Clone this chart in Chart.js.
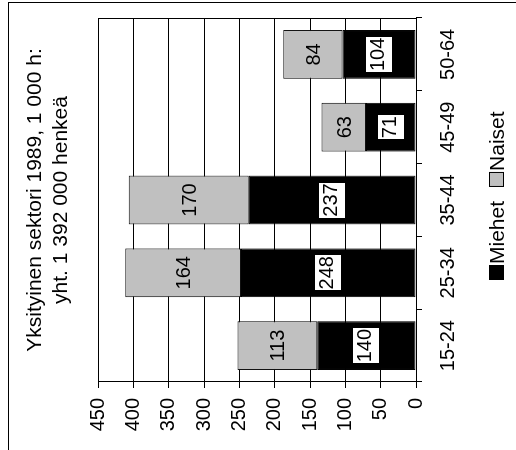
<!DOCTYPE html>
<html>
<head>
<meta charset="utf-8">
<script src="https://cdn.jsdelivr.net/npm/chart.js@4"></script>
<style>
  html, body { margin: 0; padding: 0; background: #fff; overflow: hidden; }
  #frame { position: absolute; left: 8px; top: 2px; width: 600px; height: 600px; border: 1px solid #000; }
  /* the chart is drawn upright, then turned a quarter to the left */
  #rot { position: absolute; left: 0; top: 0; width: 450px; height: 516px;
         transform-origin: 0 0; transform: translateY(450px) rotate(-90deg); }
</style>
</head>
<body>
<div id="frame"></div>
<div id="rot"><canvas id="chart" width="450" height="516"></canvas></div>
<script>
const FONT = "'Liberation Sans', Arial, sans-serif";

// Dati
const ageGroups = ["15-24", "25-34", "35-44", "45-49", "50-64"];
const miehet = [140, 248, 237, 71, 104];
const naiset = [113, 164, 170, 63, 84];
const valueMax = 450;
const valueStep = 50;
const titleLines = ["Yksityinen sektori 1989, 1 000 h:", "yht. 1 392 000 henkeä"];

// bordo destro dell'area del grafico
const plotBorder = {
  id: "plotBorder",
  afterDraw(chart) {
    const { ctx, chartArea } = chart;
    const x = Math.round(chartArea.right) - 0.5;
    ctx.save();
    ctx.strokeStyle = "#000";
    ctx.lineWidth = 1;
    ctx.beginPath();
    ctx.moveTo(x, chartArea.top);
    ctx.lineTo(x, chartArea.bottom);
    ctx.stroke();
    ctx.restore();
  },
};

// etichette dei valori
const barLabels = {
  id: "barLabels",
  afterDatasetsDraw(chart) {
    const ctx = chart.ctx;
    ctx.save();
    ctx.font = "20px " + FONT;
    ctx.textAlign = "center";
    ctx.textBaseline = "alphabetic";
    chart.data.datasets.forEach((ds, i) => {
      chart.getDatasetMeta(i).data.forEach((bar, j) => {
        const { x, y } = bar.getCenterPoint();
        const text = String(ds.data[j]);
        const w = ctx.measureText(text).width;
        if (ds.labelBox) {
          ctx.fillStyle = "#fff";
          ctx.fillRect(Math.round(x - w / 2 - 1), Math.round(y - 13), Math.round(w + 2), 26);
        }
        ctx.fillStyle = "#000";
        ctx.fillText(text, x, y + (ds.labelBox ? 5 : 7));
      });
    });
    ctx.restore();
  },
};

// legenda sotto l'asse
const sideLegend = {
  id: "sideLegend",
  afterDraw(chart) {
    const ctx = chart.ctx;
    let x = 170;
    const y = 489;
    ctx.save();
    ctx.font = "21px " + FONT;
    ctx.textBaseline = "alphabetic";
    chart.data.datasets.forEach((ds) => {
      ctx.fillStyle = ds.backgroundColor;
      ctx.fillRect(x, y, 15, 15);
      ctx.strokeStyle = "#000";
      ctx.lineWidth = 1;
      ctx.strokeRect(x + 0.5, y + 0.5, 14, 14);
      ctx.fillStyle = "#000";
      ctx.fillText(ds.label, x + 16, y + 15);
      x += 16 + ctx.measureText(ds.label).width + 14;
    });
    ctx.restore();
  },
};

new Chart(document.getElementById("chart"), {
  type: "bar",
  data: {
    labels: ageGroups,
    datasets: [
      {
        label: "Miehet",
        data: miehet,
        backgroundColor: "#000000",
        borderColor: "#000000",
        borderWidth: 1,
        borderSkipped: false,
        barPercentage: 0.67,
        categoryPercentage: 1,
        labelBox: true,
      },
      {
        label: "Naiset",
        data: naiset,
        backgroundColor: "#c0c0c0",
        borderColor: "#111111",
        borderWidth: 1,
        borderSkipped: false,
        barPercentage: 0.67,
        categoryPercentage: 1,
        labelBox: false,
      },
    ],
  },
  options: {
    responsive: false,
    animation: false,
    devicePixelRatio: 1,
    layout: { padding: { top: 0, right: 18, bottom: 50, left: 0 } },
    plugins: {
      legend: { display: false },
      tooltip: { enabled: false },
      title: {
        display: true,
        text: titleLines,
        fullSize: false,
        color: "#000",
        font: { family: FONT, size: 21, weight: "normal", lineHeight: 1.2 },
        padding: { top: 23, bottom: 25 },
      },
    },
    scales: {
      x: {
        stacked: true,
        grid: { offset: true, drawOnChartArea: false, color: "#000", tickLength: 6 },
        border: { color: "#000" },
        ticks: { color: "#000", font: { family: FONT, size: 20 }, padding: 14, maxRotation: 0, autoSkip: false },
        afterFit: (s) => { s.height = 50; },
      },
      y: {
        stacked: true,
        min: 0,
        max: valueMax,
        grid: { color: "#000", tickLength: 6 },
        border: { color: "#000" },
        ticks: { stepSize: valueStep, color: "#000", font: { family: FONT, size: 20 }, padding: 10 },
        afterFit: (s) => { s.width = 68; },
      },
    },
  },
  plugins: [plotBorder, barLabels, sideLegend],
});
</script>
</body>
</html>
